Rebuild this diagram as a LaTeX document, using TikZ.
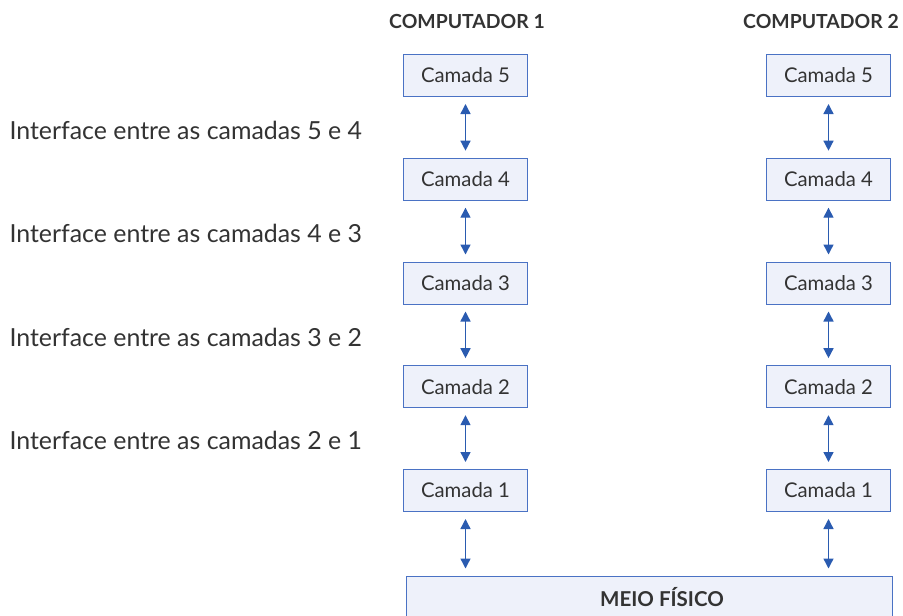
\documentclass[tikz,border=0pt]{standalone}
\usepackage{fontspec}
\setmainfont{Lato}
\usetikzlibrary{arrows.meta}
\definecolor{boxfill}{HTML}{EEF1FA}
\definecolor{boxline}{HTML}{4A72C4}
\definecolor{arrowc}{HTML}{2A5BB0}
\definecolor{txt}{HTML}{333333}
\tikzset{
  layerbox/.style={draw=boxline, fill=boxfill, line width=1pt, minimum width=124pt, minimum height=42pt, inner sep=0pt, text=txt, font=\fontsize{20.3}{22}\selectfont},
  header/.style={text=txt, font=\bfseries\fontsize{19.4}{22}\selectfont},
  iflabel/.style={text=txt, anchor=west, font=\fontsize{24.9}{27}\selectfont},
  link/.style={draw=arrowc, line width=1.4pt, {Triangle[length=10pt,width=10pt]}-{Triangle[length=10pt,width=10pt]}, shorten <=7pt, shorten >=7pt}
}
\begin{document}
\begin{tikzpicture}[x=1pt,y=-1pt]
\useasboundingbox (0,0) rectangle (903,616);
\clip (0,0) rectangle (903,616);
\node[header] (h1) at (467,21) {COMPUTADOR 1};
\node[header] (h2) at (821,21) {COMPUTADOR 2};
\foreach \n/\y in {5/75.5,4/179.2,3/283,2/386.7,1/490.5}{
  \node[layerbox] (a\n) at (465.5,\y) {Camada \n};
  \node[layerbox] (b\n) at (828.5,\y) {Camada \n};
}
\node[draw=boxline, fill=boxfill, line width=1pt, minimum width=486pt, minimum height=50pt, inner sep=0pt] (meio) at (649,601) {};
\node[text=txt, font=\bfseries\fontsize{20.5}{22}\selectfont] (meiotxt) at (662,597) {MEIO FÍSICO};
\foreach \u/\l in {5/4,4/3,3/2,2/1}{
  \draw[link] (a\u) -- (a\l);
  \draw[link] (b\u) -- (b\l);
}
\draw[link] (a1.south) -- (a1.south |- meio.north);
\draw[link] (b1.south) -- (b1.south |- meio.north);
\node[iflabel] (i54) at (6,130) {Interface entre as camadas 5 e 4};
\node[iflabel] (i43) at (6,233.5) {Interface entre as camadas 4 e 3};
\node[iflabel] (i32) at (6,337) {Interface entre as camadas 3 e 2};
\node[iflabel] (i21) at (6,440.5) {Interface entre as camadas 2 e 1};
\end{tikzpicture}
\end{document}
